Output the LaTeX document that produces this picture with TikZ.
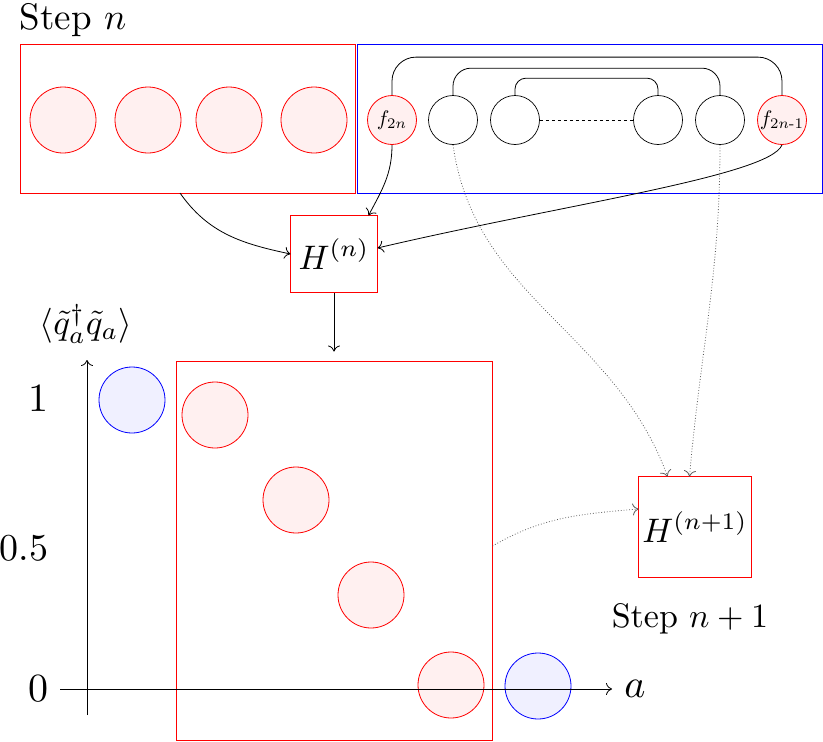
\documentclass[tikz,border=0pt]{standalone}
\usepackage{amsmath}
\usetikzlibrary{arrows.meta,calc}
\begin{document}
\begin{tikzpicture}[x=1pt,y=1pt,
  >={To[length=6pt,width=12pt]},
  lw/.style={line width=0.8pt},
  boxn/.style={inner sep=0pt, outer sep=0.5pt},
  redline/.style={draw=red, line width=1pt},
  blueline/.style={draw=blue, line width=1pt},
  rcirc/.style={circle, draw=red, fill=red!6, line width=0.8pt, inner sep=0pt, minimum size=66},
  bcirc/.style={circle, draw=blue, fill=blue!6, line width=0.8pt, inner sep=0pt, minimum size=66},
  kcirc/.style={circle, draw=black, line width=0.7pt, inner sep=0pt, minimum size=49},
  fcirc/.style={circle, draw=red, fill=red!6, line width=0.8pt, inner sep=0pt, minimum size=49},
  txt/.style={inner sep=0pt, text=black},
  dots/.style={dotted, line width=0.8pt, gray!70!black},
]
\useasboundingbox (0,0) rectangle (823,-742);

% box nodes (outlines drawn explicitly)
\node[boxn, minimum width=334, minimum height=148] (box1) at (188,-119) {};
\node[boxn, minimum width=464, minimum height=148] (box2) at (590,-119) {};
\node[boxn, minimum width=86, minimum height=76] (H) at (334,-254) {};
\node[boxn, minimum width=315, minimum height=378] (bigbox) at (334.5,-551) {};
\node[boxn, minimum width=112, minimum height=100] (H2) at (695,-527) {};

\draw[redline] (box1.south west) rectangle (box1.north east);
\draw[blueline] (box2.south west) rectangle (box2.north east);
\draw[redline] (H.south west) rectangle (H.north east);
\draw[redline] (bigbox.south west) rectangle (bigbox.north east);
\draw[redline] (H2.south west) rectangle (H2.north east);

% top circles
\node[rcirc] (r1) at (63,-120) {};
\node[rcirc] (r2) at (148,-120) {};
\node[rcirc] (r3) at (229,-120) {};
\node[rcirc] (r4) at (314,-120) {};

\node[fcirc] (fa) at (392,-120) {};
\node[kcirc] (k2) at (453,-120) {};
\node[kcirc] (k3) at (515,-120) {};
\node[kcirc] (k4) at (658,-120) {};
\node[kcirc] (k5) at (720,-120) {};
\node[fcirc] (fb) at (782,-120) {};

\draw[dashed, line width=0.7pt] (k3.east) -- (k4.west);
\draw[lw, rounded corners=24] (fa.north) -- ++(0,38) -| (fb.north);
\draw[lw, rounded corners=18] (k2.north) -- ++(0,27) -| (k5.north);
\draw[lw, rounded corners=11] (k3.north) -- ++(0,17) -| (k4.north);

% arrows into H(n)
\coordinate (s1) at (180,-193);
\draw[lw,->] (s1) to[out=-55,in=168] (H.west);
\draw[lw,->] (fa.south) to[out=-90,in=62] ($(H.north east)+(-9,0)$);
\draw[lw,->] (fb.south) .. controls +(-12,-31) and +(183,43) .. ($(H.east)+(0,6)$);
\draw[lw,->] (H.south) -- ++(0,-59);

% big box contents
\node[rcirc] (c1) at (215,-415) {};
\node[rcirc] (c2) at (296,-500) {};
\node[rcirc] (c3) at (371,-595) {};
\node[rcirc] (c4) at (451,-685) {};
\node[bcirc] (b1) at (132,-400) {};
\node[bcirc] (b2) at (538,-686) {};

% axes
\coordinate (y0) at (87,-715);
\coordinate (y1) at (87,-360);
\coordinate (x0) at (60,-689);
\coordinate (x1) at (612,-689);
\draw[lw,->] (y0) -- (y1);
\draw[lw,->] (x0) -- (x1);

% dotted arrows to H(n+1)
\draw[dots,->] (k2.south) to[out=-82,in=110] ($(H2.north west)+(29,0)$);
\draw[dots,->] (k5.south) to[out=-90,in=85] ($(H2.north west)+(51,0)$);
\draw[dots,->] ($(bigbox.east)+(0,5)$) to[out=30,in=185] ($(H2.west)+(0,18)$);

% texts
\node[txt, scale=3.7, anchor=base west] (stepn) at (19,-29) {Step $n$};
\node[txt, scale=2.1] (fat) at (fa.center) {$f_{2n}$};
\node[txt, scale=2.1] (fbt) at (fb.center) {$f_{2n\text{-}1}$};
\node[txt, scale=3.4] (Ht) at (H.center) {$H^{(n)}$};
\node[txt, scale=3.4] (H2t) at (H2.center) {$H^{(n+1)}$};
\node[txt, scale=3.4, anchor=base] (stepn1) at (690,-627) {Step $n+1$};
\node[txt, scale=4, anchor=east] (t1) at (49,-398) {1};
\node[txt, scale=3.8, anchor=east] (t05) at (49,-548) {0.5};
\node[txt, scale=4, anchor=east] (t0) at (49,-689) {0};
\node[txt, scale=4] (alab) at (635,-689) {$a$};
\node[txt, scale=3.5] (ylab) at (86,-324) {$\langle \tilde{q}_a^{\dagger}\tilde{q}_a\rangle$};
\end{tikzpicture}
\end{document}
